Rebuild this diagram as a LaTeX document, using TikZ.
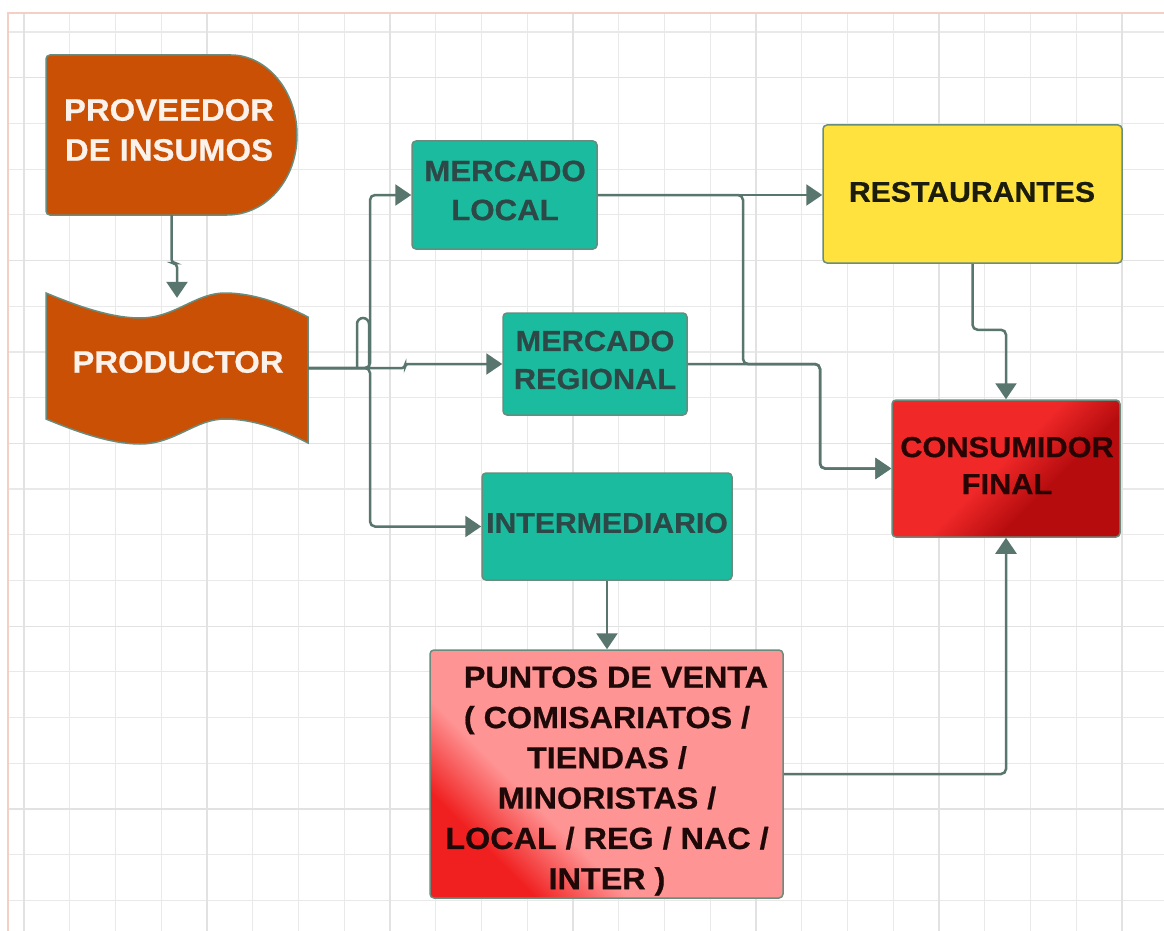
\documentclass[tikz,border=0pt]{standalone}
\usepackage{fontspec}
\newfontfamily\bfont[FakeStretch=1.06,FakeBold=0.6]{Liberation Sans}
\usetikzlibrary{arrows.meta,calc}
\definecolor{orng}{RGB}{201,80,4}
\definecolor{teal1}{RGB}{26,187,158}
\definecolor{yel}{RGB}{255,226,62}
\definecolor{cfA}{RGB}{240,40,40}
\definecolor{cfB}{RGB}{182,12,14}
\definecolor{pkA}{RGB}{255,148,148}
\definecolor{pkB}{RGB}{240,32,32}
\definecolor{bord}{RGB}{105,140,125}
\definecolor{lncol}{RGB}{88,118,110}
\definecolor{gridA}{RGB}{233,233,233}
\definecolor{gridB}{RGB}{226,226,226}
\definecolor{frm}{RGB}{242,208,198}
\definecolor{txtteal}{RGB}{45,72,70}
\definecolor{txtw}{RGB}{252,242,236}
\pgfdeclareverticalshading{pvshade}{100bp}{color(0bp)=(pkB); color(27bp)=(pkB); color(38bp)=(pkA); color(100bp)=(pkA)}
\pgfdeclareverticalshading{cfshade}{100bp}{color(0bp)=(cfB); color(38bp)=(cfB); color(52bp)=(cfA); color(100bp)=(cfA)}
\newcommand\ft[2]{\bfont\bfseries\fontsize{#1}{#2}\selectfont}
\tikzset{
  box/.style={draw=bord, line width=1.5pt, rounded corners=4pt, inner sep=0pt, align=center},
  tealbox/.style={box, fill=teal1, text=txtteal},
  anchorbox/.style={inner sep=0pt, draw=none},
  wtext/.style={text=txtw, align=center, inner sep=0pt},
  btext/.style={align=center, inner sep=0pt},
  orshape/.style={fill=orng, draw=bord, line width=1.5pt},
  conn/.style={draw=lncol, line width=2.5pt, -{Triangle[length=16pt,width=21pt]}, rounded corners=5pt},
  connline/.style={draw=lncol, line width=2.5pt, rounded corners=6pt},
}
\begin{document}
\begin{tikzpicture}[x=1pt,y=-1pt]
\useasboundingbox (0,0) rectangle (1164,931);
\fill[white] (0,0) rectangle (1164,931);
% grid
\foreach \i in {0,...,24} {\draw[gridA, line width=1.2pt] ({24+45.75*\i},13) -- ({24+45.75*\i},931);}
\foreach \k in {0,...,19} {\draw[gridA, line width=1.2pt] (8,{32+45.7*\k}) -- (1164,{32+45.7*\k});}
\foreach \i in {0,4,...,24} {\draw[gridB, line width=1.2pt] ({24+45.75*\i},13) -- ({24+45.75*\i},931);}
\foreach \k in {1,5,...,17} {\draw[gridB, line width=1.2pt] (8,{32+45.7*\k}) -- (1164,{32+45.7*\k});}
\draw[frm, line width=1.5pt] (8,931) -- (8,13) -- (1164,13);

% PROVEEDOR shape
\draw[orshape] (227,215) [rounded corners=4pt] -- (46,215) -- (46,55) -- (227,55) [sharp corners]
  .. controls (266,55) and (297,90) .. (297,135)
  .. controls (297,180) and (266,215) .. (227,215) -- cycle;
\node[anchorbox, minimum width=251pt, minimum height=160pt] (prov) at (171.5,135) {};
\node[wtext, font=\ft{31}{40}] (provtxt) at (169,130) {PROVEEDOR\\DE INSUMOS};

% PRODUCTOR shape
\draw[orshape] (46,293) .. controls (75,305) and (110,318) .. (140,318)
  .. controls (175,318) and (195,293) .. (225,293)
  .. controls (255,293) and (285,305) .. (308,317) -- (308,443)
  .. controls (285,431) and (255,419) .. (225,419)
  .. controls (195,419) and (175,444) .. (140,444)
  .. controls (110,444) and (75,431) .. (46,419) -- cycle;
\node[anchorbox, minimum width=262pt, minimum height=140pt] (prod) at (177,368) {};
\node[wtext, font=\ft{31}{40}] (prodtxt) at (178,362) {PRODUCTOR};

% boxes
\node[tealbox, minimum width=185pt, minimum height=108pt] (ml) at (504.5,195) {};
\node[btext, text=txtteal, font=\ft{29.5}{39}] (mltxt) at (505,190.5) {MERCADO\\LOCAL};
\node[tealbox, minimum width=184pt, minimum height=102pt] (mr) at (595,364) {};
\node[btext, text=txtteal, font=\ft{29}{38}] (mrtxt) at (595,360) {MERCADO\\REGIONAL};
\node[tealbox, minimum width=250pt, minimum height=107pt] (inter) at (607,526.5) {};
\node[btext, text=txtteal, font=\ft{28.5}{38}] (intertxt) at (607,523) {INTERMEDIARIO};
\node[box, fill=yel, minimum width=299pt, minimum height=138pt] (rest) at (972.5,194) {};
\node[btext, text={rgb,255:red,28;green,28;blue,12}, font=\ft{28.5}{38}] (resttxt) at (972,192) {RESTAURANTES};
\node[box, shading=cfshade, shading angle=45, minimum width=228pt, minimum height=137pt] (cf) at (1006,468.5) {};
\node[btext, text={rgb,255:red,40;green,4;blue,4}, font=\ft{29}{37}] (cftxt) at (1007,465.5) {CONSUMIDOR\\FINAL};
\node[box, shading=pvshade, shading angle=-45, minimum width=353pt, minimum height=248pt] (pv) at (606.5,774) {};
\node[btext, text={rgb,255:red,30;green,8;blue,8}, font=\ft{30.5}{40.3}] (pvtxt) at (607,781)
  {\hspace*{18pt}PUNTOS DE VENTA\\( COMISARIATOS /\\TIENDAS /\\MINORISTAS /\\LOCAL / REG / NAC /\\INTER )};

% connectors
\coordinate (j1) at (370,368);
\coordinate (j2) at (405,368);
\coordinate (j3) at (743,195);
\coordinate (j4) at (743,364);
\coordinate (j5) at (820,364);
\draw[conn, rounded corners=4pt] (prov.south) -- ++(0,48) -| (prod.north);
\draw[conn] (prod.east) -- (j1) |- (ml.west);
\draw[conn] (prod.east) -- (j1) |- (inter.west);
\draw[conn, rounded corners=3pt] (prod.east) -- (j2) |- (mr.west);
\draw[connline] (357,368) -- (357,318) -- (369,318) -- (369,368);
\draw[conn] (ml.east) -- (ml.east -| rest.west);
\draw[conn] (ml.east) -- (j3) -- (j4) -- (j5) |- (cf.west);
\draw[conn] (mr.east) -- (j5) |- (cf.west);
\draw[conn] (rest.south) -- ++(0,66) -| (cf.north);
\draw[conn] (inter.south) -- (inter.south |- pv.north);
\draw[conn] (pv.east) -| (cf.south);
\end{tikzpicture}
\end{document}
